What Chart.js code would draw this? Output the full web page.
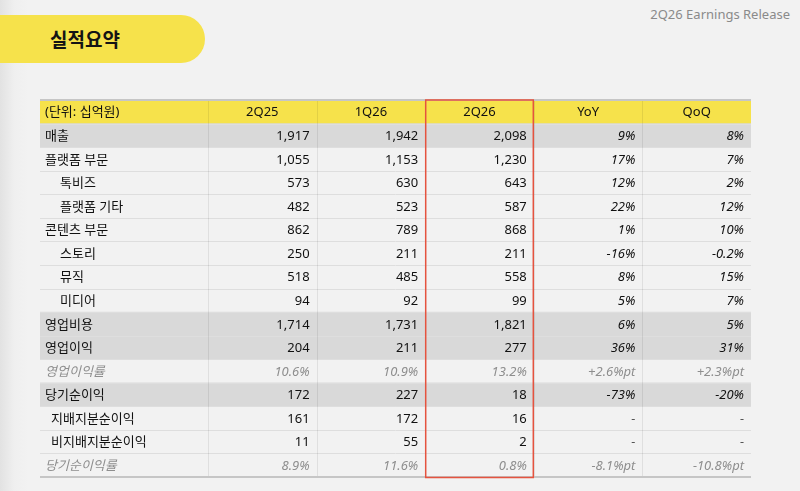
<!DOCTYPE html>
<html lang="ko">
<head>
<meta charset="utf-8">
<script src="https://cdn.jsdelivr.net/npm/chart.js@4"></script>
<style>
  body {
    margin: 0;
    width: 800px;
    height: 491px;
    overflow: hidden;
    position: relative;
    background: linear-gradient(to right, #e2e2e2 0px, #efefef 14px, #f2f2f2 28px, #f2f2f2 100%);
    font-family: "Noto Sans CJK KR", sans-serif;
  }
  .tab {
    position: absolute;
    left: 0;
    top: 15px;
    width: 205px;
    height: 48px;
    background: #f6e24b;
    border-radius: 0 24px 24px 0;
  }
  .tab span {
    position: absolute;
    left: 50px;
    top: 11px;
    font-size: 19px;
    font-weight: 700;
    color: #141414;
    line-height: 26px;
  }
  .release {
    position: absolute;
    right: 10px;
    top: 5px;
    font-family: "Noto Sans", sans-serif;
    font-size: 13px;
    color: #8a8a8a;
  }
  canvas { position: absolute; left: 0; top: 0; }
</style>
</head>
<body>
<div class="tab"><span>실적요약</span></div>
<div class="release">2Q26 Earnings Release</div>
<canvas id="table" width="800" height="491"></canvas>
<script>
// table data
const unitLabel = "(단위: 십억원)";
const rowLabels = ["매출", "플랫폼 부문", "톡비즈", "플랫폼 기타", "콘텐츠 부문", "스토리", "뮤직", "미디어",
    "영업비용", "영업이익", "영업이익률", "당기순이익", "지배지분순이익", "비지배지분순이익", "당기순이익률"];
const rowIndent = [0, 0, 2, 2, 0, 2, 2, 2, 0, 0, 0, 0, 1, 1, 0];
const totalRows = ["매출", "영업비용", "영업이익", "당기순이익"];
const marginRows = ["영업이익률", "당기순이익률"];
const periods = ["2Q25", "1Q26", "2Q26"];
const changeCols = ["YoY", "QoQ"];
const highlightCol = "2Q26";

const v2Q25 = [1917, 1055, 573, 482, 862, 250, 518, 94, 1714, 204, 10.6, 172, 161, 11, 8.9];
const v1Q26 = [1942, 1153, 630, 523, 789, 211, 485, 92, 1731, 211, 10.9, 227, 172, 55, 11.6];
const v2Q26 = [2098, 1230, 643, 587, 868, 211, 558, 99, 1821, 277, 13.2, 18, 16, 2, 0.8];
const yoy = [9, 17, 12, 22, 1, -16, 8, 5, 6, 36, 2.6, -73, null, null, -8.1];
const qoq = [8, 7, 2, 12, 10, -0.2, 15, 7, 5, 31, 2.3, -20, null, null, -10.8];

document.addEventListener("DOMContentLoaded", () => {
    const headers = [unitLabel, ...periods, ...changeCols];
    const columns = [v2Q25, v1Q26, v2Q26, yoy, qoq];
    const yLabels = [unitLabel, ...rowLabels];

    // column edges in x-scale units: the label column is wider than the others
    const labelColWidth = 1.547;
    const colEdges = [0, labelColWidth];
    for (let i = 1; i < headers.length; i++) colEdges.push(labelColWidth + i);
    const xMax = colEdges[colEdges.length - 1];

    // row fills: yellow header, gray total rows
    const fills = yLabels.map((l, i) => (i === 0 || totalRows.includes(l)) ? [0, xMax] : null);
    const fillColors = yLabels.map((l, i) => i === 0 ? "#f6e24b" : "#d9d9d9");

    const fmtValue = (v, row) => {
        if (marginRows.includes(rowLabels[row])) return v.toFixed(1) + "%";
        return v.toLocaleString("en-US");
    };
    const fmtChange = (v, row) => {
        if (v === null) return "-";
        if (marginRows.includes(rowLabels[row])) return (v > 0 ? "+" : "") + v.toFixed(1) + "%pt";
        return v + "%";
    };

    const font = (italic) => `${italic ? "italic " : ""}13px "Noto Sans", "Noto Sans CJK KR", sans-serif`;

    const tablePlugin = {
        id: "tableText",
        afterDatasetsDraw(chart) {
            const { ctx, chartArea, scales: { x, y } } = chart;
            const half = (y.getPixelForValue(1) - y.getPixelForValue(0)) / 2;
            ctx.save();

            // horizontal row lines
            ctx.strokeStyle = "#dedede";
            ctx.lineWidth = 1;
            for (let i = 1; i < yLabels.length; i++) {
                const py = Math.round(y.getPixelForValue(i) - half) + 0.5;
                ctx.beginPath();
                ctx.moveTo(chartArea.left, py);
                ctx.lineTo(chartArea.right, py);
                ctx.stroke();
            }
            // vertical column lines
            ctx.strokeStyle = "rgba(0,0,0,0.08)";
            for (let c = 1; c < colEdges.length - 1; c++) {
                const px = Math.round(x.getPixelForValue(colEdges[c])) + 0.5;
                ctx.beginPath();
                ctx.moveTo(px, chartArea.top);
                ctx.lineTo(px, chartArea.bottom);
                ctx.stroke();
            }
            // top and bottom borders
            ctx.strokeStyle = "#c6c6c6";
            ctx.lineWidth = 2;
            ctx.beginPath();
            ctx.moveTo(chartArea.left, chartArea.top);
            ctx.lineTo(chartArea.right, chartArea.top);
            ctx.moveTo(chartArea.left, chartArea.bottom);
            ctx.lineTo(chartArea.right, chartArea.bottom);
            ctx.stroke();

            // header text
            ctx.textBaseline = "middle";
            ctx.fillStyle = "#111";
            ctx.font = font(false);
            const hy = y.getPixelForValue(0) + 1;
            headers.forEach((h, c) => {
                if (c === 0) {
                    ctx.textAlign = "left";
                    ctx.fillText(h, x.getPixelForValue(colEdges[0]) + 5, hy);
                } else {
                    ctx.textAlign = "center";
                    ctx.fillText(h, x.getPixelForValue((colEdges[c] + colEdges[c + 1]) / 2), hy);
                }
            });

            // body rows
            rowLabels.forEach((label, r) => {
                const py = y.getPixelForValue(r + 1) + 1;
                const isMargin = marginRows.includes(label);
                const color = isMargin ? "#8e8e8e" : "#111";
                ctx.textAlign = "left";
                ctx.font = font(isMargin);
                ctx.fillStyle = color;
                const indent = [5, 11, 20][rowIndent[r]];
                ctx.fillText(label, x.getPixelForValue(0) + indent, py);

                ctx.textAlign = "right";
                columns.forEach((col, c) => {
                    const isChange = c >= periods.length;
                    const v = col[r];
                    const text = isChange ? fmtChange(v, r) : fmtValue(v, r);
                    ctx.font = font(isMargin || isChange);
                    ctx.fillStyle = (v === null) ? "#555" : color;
                    ctx.fillText(text, x.getPixelForValue(colEdges[c + 2]) - 7, py);
                });
            });

            // highlight box around the current quarter
            const hc = headers.indexOf(highlightCol);
            ctx.strokeStyle = "#e5533f";
            ctx.lineWidth = 1.5;
            const x0 = x.getPixelForValue(colEdges[hc]);
            const x1 = x.getPixelForValue(colEdges[hc + 1]);
            ctx.strokeRect(x0 + 0.5, chartArea.top, x1 - x0 - 1, chartArea.bottom - chartArea.top + 0.5);
            ctx.restore();
        },
    };

    const ctx = document.getElementById("table").getContext("2d");
    new Chart(ctx, {
        type: "bar",
        data: {
            labels: yLabels,
            datasets: [
                {
                    data: fills,
                    backgroundColor: fillColors,
                    borderWidth: 0,
                    barPercentage: 1,
                    categoryPercentage: 1,
                },
            ],
        },
        options: {
            indexAxis: "y",
            responsive: false,
            animation: false,
            devicePixelRatio: 1,
            layout: { padding: { left: 40, right: 49, top: 100, bottom: 14 } },
            plugins: { legend: { display: false }, tooltip: { enabled: false } },
            scales: {
                x: { type: "linear", min: 0, max: xMax, display: false },
                y: { type: "category", display: false, offset: true },
            },
        },
        plugins: [tablePlugin],
    });
});
</script>
</body>
</html>
